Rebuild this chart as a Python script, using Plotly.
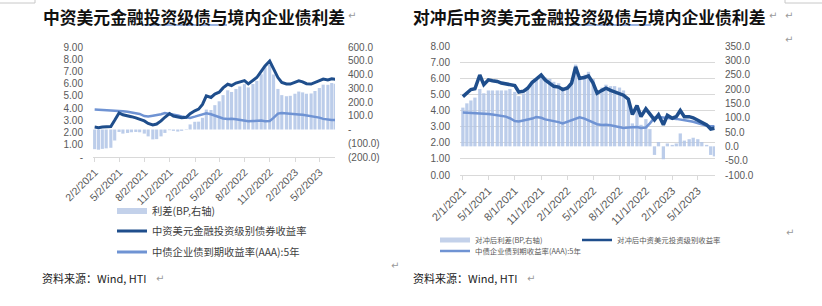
import pandas as pd
import plotly.graph_objects as go

# ---------------- data ----------------
dates = list(pd.date_range("2021-02-01", periods=58, freq="SMS").strftime("%Y-%m-%d")) + ["2023-06-28"]

# 中债企业债到期收益率(AAA):5年 (%)
aaa_5y = [3.88, 3.87, 3.86, 3.85, 3.83, 3.80, 3.78, 3.75, 3.70, 3.66,
          3.62, 3.52, 3.35, 3.32, 3.38, 3.42, 3.50, 3.60, 3.55, 3.45,
          3.40, 3.32, 3.28, 3.20, 3.30, 3.40, 3.50, 3.58, 3.50, 3.38,
          3.25, 3.15, 3.10, 3.12, 3.08, 3.02, 2.96, 2.92, 2.94, 2.96,
          2.98, 2.92, 2.95, 3.20, 3.55, 3.60, 3.55, 3.52, 3.50, 3.48,
          3.45, 3.40, 3.35, 3.30, 3.22, 3.12, 3.05, 3.02,
          3.03]

# 中资美元金融投资级别债券收益率 (%)
usd_fin_ig = [2.45, 2.40, 2.45, 2.48, 2.50, 3.00, 3.60, 3.45, 3.40, 3.30,
              3.20, 3.10, 2.95, 2.75, 2.62, 2.70, 2.95, 3.25, 3.55, 3.35,
              3.25, 3.22, 3.25, 3.55, 3.78, 3.92, 4.30, 5.00, 4.87, 5.15,
              5.30, 5.65, 5.95, 5.85, 6.05, 6.15, 6.25, 5.98, 6.25, 6.50,
              7.00, 7.45, 7.85, 7.20, 6.50, 6.10, 5.97, 5.97, 6.10, 6.24,
              6.15, 6.00, 5.97, 6.10, 6.24, 6.38, 6.30, 6.40,
              6.35]

# 利差 (BP)
spread_bp = [-143, -147, -141, -137, -133, -80, -18, -30, -25, -20,
             -18, -20, -30, -50, -72, -70, -50, -25, -5, -10,
             -15, -10, -3, 37, 56, 57, 85, 145, 142, 177,
             205, 250, 285, 273, 295, 313, 330, 306, 331, 354,
             402, 453, 470, 400, 295, 250, 242, 245, 260, 276,
             270, 260, 262, 280, 302, 326, 325, 338,
             332]

# 对冲后中资美元投资级别收益率 (%)
hedged_yield = [4.86, 5.10, 5.30, 5.35, 6.20, 5.60, 5.90, 5.85, 5.80, 5.70,
                5.65, 5.60, 5.55, 5.15, 5.20, 5.38, 5.75, 5.95, 6.20, 5.90,
                5.69, 5.50, 5.45, 5.30, 5.40, 5.70, 6.70, 6.00, 6.05, 6.15,
                5.70, 5.07, 5.25, 5.38, 5.25, 5.17, 5.07, 4.95, 4.70, 3.75,
                4.30, 3.62, 4.10, 3.80, 3.42, 3.73, 3.11, 3.70, 3.52, 3.62,
                4.00, 3.62, 3.62, 3.55, 3.42, 3.25, 3.11, 2.85,
                2.90]

# 对冲后利差 (BP)
hedged_spread_bp = [135, 150, 160, 170, 200, 185, 195, 195, 195, 195,
                    195, 200, 190, 175, 185, 200, 225, 235, 245, 240,
                    235, 225, 220, 205, 210, 230, 285, 245, 250, 260,
                    235, 195, 205, 215, 210, 210, 205, 195, 160, 80,
                    130, 75, 95, 60, -30, 15, -45, 10, 5, 10,
                    45, 20, 25, 30, 25, 15, 5, -30,
                    -35]

left_tick_dates = ["2021-02-02", "2021-05-02", "2021-08-02", "2021-11-02", "2022-02-02",
                   "2022-05-02", "2022-08-02", "2022-11-02", "2023-02-02", "2023-05-02"]
left_tick_labels = ["2/2/2021", "5/2/2021", "8/2/2021", "11/2/2021", "2/2/2022",
                    "5/2/2022", "8/2/2022", "11/2/2022", "2/2/2023", "5/2/2023"]
right_tick_dates = ["2021-02-01", "2021-05-01", "2021-08-01", "2021-11-01", "2022-02-01",
                    "2022-05-01", "2022-08-01", "2022-11-01", "2023-02-01", "2023-05-01"]
right_tick_labels = ["2/1/2021", "5/1/2021", "8/1/2021", "11/1/2021", "2/1/2022",
                     "5/1/2022", "8/1/2022", "11/1/2022", "2/1/2023", "5/1/2023"]

left_y_vals = [0, 1, 2, 3, 4, 5, 6, 7, 8, 9]
left_y_text = ["-", "1.00", "2.00", "3.00", "4.00", "5.00", "6.00", "7.00", "8.00", "9.00"]
left_y2_vals = [-200, -100, 0, 100, 200, 300, 400, 500, 600]
left_y2_text = ["(200.0)", "(100.0)", "-", "100.0", "200.0", "300.0", "400.0", "500.0", "600.0"]
right_y_vals = [0, 1, 2, 3, 4, 5, 6, 7, 8]
right_y_text = ["0.00", "1.00", "2.00", "3.00", "4.00", "5.00", "6.00", "7.00", "8.00"]
right_y2_vals = [-100, -50, 0, 50, 100, 150, 200, 250, 300, 350]
right_y2_text = ["-100.0", "-50.0", "0.0", "50.0", "100.0", "150.0", "200.0", "250.0", "300.0", "350.0"]

# ---------------- style ----------------
W, H = 822, 306
BAR = "rgba(176,196,230,0.85)"
BAR_LEG = "#c3d1ea"
DARK = "#1f4e8c"
LIGHT = "#6f93d3"
TICK = "#595959"
AXLINE = "#d9d9d9"
NUM_FONT = "Liberation Sans"
CJK = "Noto Sans CJK SC"


def fx(x):
    return x / W


def fy(y):
    return 1 - y / H


fig = go.Figure()

# ---- left chart ----
fig.add_trace(go.Bar(x=dates, y=spread_bp, xaxis="x", yaxis="y", marker=dict(color=BAR, line=dict(width=0)),
                     showlegend=False, hoverinfo="skip"))
fig.add_trace(go.Scatter(x=dates, y=aaa_5y, xaxis="x", yaxis="y2", mode="lines",
                         line=dict(color=LIGHT, width=2.5), showlegend=False))
fig.add_trace(go.Scatter(x=dates, y=usd_fin_ig, xaxis="x", yaxis="y2", mode="lines",
                         line=dict(color=DARK, width=3), showlegend=False))
# legend entries (left)
fig.add_trace(go.Scatter(x=[None], y=[None], xaxis="x", yaxis="y2", mode="lines",
                         line=dict(color=BAR_LEG, width=6), name="利差(BP,右轴)", legend="legend"))
fig.add_trace(go.Scatter(x=[None], y=[None], xaxis="x", yaxis="y2", mode="lines",
                         line=dict(color=DARK, width=3), name="中资美元金融投资级别债券收益率", legend="legend2"))
fig.add_trace(go.Scatter(x=[None], y=[None], xaxis="x", yaxis="y2", mode="lines",
                         line=dict(color=LIGHT, width=3), name="中债企业债到期收益率(AAA):5年", legend="legend3"))

# ---- right chart ----
fig.add_trace(go.Bar(x=dates, y=hedged_spread_bp, xaxis="x2", yaxis="y3", marker=dict(color=BAR, line=dict(width=0)),
                     showlegend=False, hoverinfo="skip"))
fig.add_trace(go.Scatter(x=dates, y=aaa_5y, xaxis="x2", yaxis="y4", mode="lines",
                         line=dict(color=LIGHT, width=2.5), showlegend=False))
fig.add_trace(go.Scatter(x=dates, y=hedged_yield, xaxis="x2", yaxis="y4", mode="lines",
                         line=dict(color=DARK, width=3.5), showlegend=False))
fig.add_trace(go.Scatter(x=[None], y=[None], xaxis="x2", yaxis="y4", mode="lines",
                         line=dict(color=BAR_LEG, width=5), name="对冲后利差(BP,右轴)", legend="legend4"))
fig.add_trace(go.Scatter(x=[None], y=[None], xaxis="x2", yaxis="y4", mode="lines",
                         line=dict(color=DARK, width=2.5), name="对冲后中资美元投资级别收益率", legend="legend5"))
fig.add_trace(go.Scatter(x=[None], y=[None], xaxis="x2", yaxis="y4", mode="lines",
                         line=dict(color=LIGHT, width=2.5), name="中债企业债到期收益率(AAA):5年", legend="legend6"))

tickfont = dict(family=NUM_FONT, size=10, color=TICK)
xfont_l = dict(family=NUM_FONT, size=10.5, color=TICK)
xfont_r = dict(family=NUM_FONT, size=11, color=TICK)


def legend_cfg(x, y, size, color):
    return dict(x=fx(x), y=fy(y), xanchor="left", yanchor="middle", bgcolor="rgba(0,0,0,0)",
                borderwidth=0, itemwidth=30, font=dict(family=CJK, size=size, color=color),
                tracegroupgap=0, itemclick=False, itemdoubleclick=False)


fig.update_layout(
    width=W, height=H, margin=dict(l=0, r=0, t=0, b=0, pad=0, autoexpand=False),
    paper_bgcolor="white", plot_bgcolor="rgba(0,0,0,0)",
    bargap=0.12, hovermode=False,
    xaxis=dict(domain=[fx(93), fx(335)], range=["2021-01-26", "2023-06-27"], anchor="y", automargin=False,
               tickvals=left_tick_dates, ticktext=left_tick_labels, tickangle=-45, tickfont=xfont_l,
               showline=True, linecolor=AXLINE, linewidth=1, ticks="outside", ticklen=4, tickcolor=AXLINE,
               showgrid=False, zeroline=False),
    yaxis=dict(domain=[fy(157), fy(47)], range=[-200, 600], side="right", anchor="x", automargin=False,
               tickvals=left_y2_vals, ticktext=left_y2_text, tickfont=tickfont,
               ticks="outside", ticklen=10, tickcolor="rgba(0,0,0,0)",
               showgrid=False, zeroline=False, showline=False),
    yaxis2=dict(overlaying="y", side="left", range=[0, 9], anchor="x", automargin=False,
                tickvals=left_y_vals, ticktext=left_y_text, tickfont=tickfont,
                ticks="outside", ticklen=7, tickcolor="rgba(0,0,0,0)",
                showgrid=False, zeroline=False, showline=False),
    xaxis2=dict(domain=[fx(460), fx(715)], range=["2021-01-22", "2023-06-30"], anchor="y3", automargin=False,
                tickvals=right_tick_dates, ticktext=right_tick_labels, tickangle=-45, tickfont=xfont_r,
                showline=True, linecolor=AXLINE, linewidth=1, ticks="outside", ticklen=4, tickcolor=AXLINE,
                showgrid=False, zeroline=False),
    yaxis3=dict(domain=[fy(175), fy(46)], range=[-100, 350], side="right", anchor="x2", automargin=False,
                tickvals=right_y2_vals, ticktext=right_y2_text, tickfont=tickfont,
                ticks="outside", ticklen=7, tickcolor="rgba(0,0,0,0)",
                showgrid=False, zeroline=False, showline=False),
    yaxis4=dict(overlaying="y3", side="left", range=[0, 8], anchor="x2", automargin=False,
                tickvals=right_y_vals, ticktext=right_y_text, tickfont=tickfont,
                ticks="outside", ticklen=7, tickcolor="rgba(0,0,0,0)",
                showgrid=True, gridcolor=AXLINE, gridwidth=1, zeroline=False, showline=False),
    legend=legend_cfg(112, 211, 10.3, "#404040"),
    legend2=legend_cfg(112, 231, 10.3, "#404040"),
    legend3=legend_cfg(112, 252, 10.3, "#404040"),
    legend4=legend_cfg(435, 240, 7.4, TICK),
    legend5=legend_cfg(577, 240, 7.4, TICK),
    legend6=legend_cfg(435, 251, 7.4, TICK),
)

ann = []
# titles
ann.append(dict(text="<b>中资美元金融投资级债与境内企业债利差</b>", x=fx(41), y=fy(17), xanchor="left", yanchor="middle",
                font=dict(family=CJK, size=16.8, color="#111111")))
ann.append(dict(text="<b>对冲后中资美元金融投资级债与境内企业债利差</b>", x=fx(411), y=fy(17), xanchor="left",
                yanchor="middle", font=dict(family=CJK, size=16.8, color="#111111")))
# sources
for sx in (40, 411):
    ann.append(dict(text="资料来源：Wind, HTI", x=fx(sx), y=fy(278), xanchor="left", yanchor="middle",
                    font=dict(family=CJK, size=11, color="#222222")))
# paragraph marks
for (mx, my) in [(352, 15), (773, 15), (789, 15), (789, 40), (395, 265), (790, 232), (160, 278), (531, 278)]:
    ann.append(dict(text="↵", x=fx(mx), y=fy(my), xanchor="center", yanchor="middle",
                    font=dict(family="DejaVu Sans", size=10, color="#9a9a9a")))
for a in ann:
    a.update(xref="paper", yref="paper", showarrow=False)
fig.update_layout(annotations=ann)

shapes = [
    # spell-check underlines under titles
    dict(type="line", x0=fx(142), x1=fx(227), y0=fy(25), y1=fy(25), line=dict(color="#3b6bc4", width=1)),
    dict(type="line", x0=fx(566), x1=fx(651), y0=fy(25), y1=fy(25), line=dict(color="#3b6bc4", width=1)),
    # page corner marks
    dict(type="line", x0=0, x1=fx(35), y0=fy(3), y1=fy(3), line=dict(color="#c8c8c8", width=1)),
    dict(type="line", x0=fx(35), x1=fx(35), y0=1, y1=fy(3), line=dict(color="#c8c8c8", width=1)),
    dict(type="line", x0=fx(785), x1=1, y0=fy(3), y1=fy(3), line=dict(color="#c8c8c8", width=1)),
    dict(type="line", x0=fx(785), x1=fx(785), y0=1, y1=fy(3), line=dict(color="#c8c8c8", width=1)),
]
for s in shapes:
    s.update(xref="paper", yref="paper")
fig.update_layout(shapes=shapes)

fig.write_html("out.html")
